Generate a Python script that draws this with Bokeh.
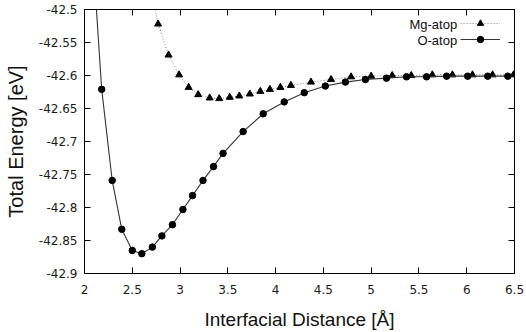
from bokeh.plotting import figure
from bokeh.models import LinearAxis, FixedTicker, Range1d, Legend, LegendItem
from bokeh.core.properties import value
from bokeh.embed import file_html
from bokeh.resources import INLINE

# ---- data ----
o_x = [2.07, 2.18, 2.29, 2.39, 2.50, 2.60, 2.71, 2.81, 2.92, 3.03, 3.13, 3.24, 3.35,
       3.45, 3.66, 3.87, 4.09, 4.30, 4.52, 4.73, 4.94, 5.16, 5.37, 5.58, 5.79, 6.01,
       6.22, 6.43]
o_y = [-42.38, -42.621, -42.759, -42.833, -42.865, -42.870, -42.860, -42.843, -42.826,
       -42.803, -42.782, -42.759, -42.738, -42.718, -42.685, -42.658, -42.640, -42.626,
       -42.616, -42.610, -42.606, -42.604, -42.602, -42.602, -42.601, -42.601, -42.601,
       -42.601]

mg_x = [2.66, 2.77, 2.88, 2.99, 3.09, 3.19, 3.31, 3.41, 3.52, 3.62, 3.73, 3.84, 3.94,
        4.05, 4.16, 4.37, 4.58, 4.79, 5.00, 5.22, 5.42, 5.64, 5.85, 6.06, 6.27, 6.49]
mg_y = [-42.433, -42.522, -42.569, -42.599, -42.618, -42.629, -42.634, -42.635, -42.633,
        -42.631, -42.628, -42.624, -42.621, -42.618, -42.615, -42.610, -42.606, -42.602,
        -42.601, -42.600, -42.600, -42.599, -42.599, -42.599, -42.599, -42.599]

series_names = ["Mg-atop", "O-atop"]

x_ticks = [2.0, 2.5, 3.0, 3.5, 4.0, 4.5, 5.0, 5.5, 6.0, 6.5]
x_tick_labels = ["2", "2.5", "3", "3.5", "4", "4.5", "5", "5.5", "6", "6.5"]
y_ticks = [-42.9, -42.85, -42.8, -42.75, -42.7, -42.65, -42.6, -42.55, -42.5]
y_tick_labels = ["-42.9", "-42.85", "-42.8", "-42.75", "-42.7", "-42.65", "-42.6",
                 "-42.55", "-42.5"]

x_title = "Interfacial Distance [Å]"
y_title = "Total Energy [eV]"

# ---- figure ----
p = figure(width=526, height=332, x_range=Range1d(2, 6.5), y_range=Range1d(-42.9, -42.5),
           output_backend="svg", toolbar_location=None,
           min_border_left=84, min_border_right=12, min_border_top=9, min_border_bottom=59)
p.xgrid.visible = False
p.ygrid.visible = False
p.outline_line_color = "black"
p.outline_line_width = 1
p.background_fill_color = "white"
p.border_fill_color = "white"

tick_font = "DejaVu Sans"
label_font = "Liberation Sans"

for ax, ticks, labels in ((p.xaxis[0], x_ticks, x_tick_labels), (p.yaxis[0], y_ticks, y_tick_labels)):
    ax.ticker = FixedTicker(ticks=ticks)
    ax.major_label_overrides = dict(zip(ticks, labels))
    ax.major_tick_in = 6
    ax.major_tick_out = 0
    ax.minor_tick_line_color = None
    ax.axis_line_color = "black"
    ax.major_tick_line_color = "black"
    ax.major_label_text_font = tick_font
    ax.major_label_text_font_size = "12px"
    ax.major_label_text_color = "#1a1a1a"
    ax.axis_label_text_font = label_font
    ax.axis_label_text_font_style = "normal"
    ax.axis_label_text_color = "#111111"

p.xaxis[0].axis_label = x_title
p.yaxis[0].axis_label = y_title
p.xaxis[0].axis_label_text_font_size = "19px"
p.yaxis[0].axis_label_text_font_size = "20px"
p.xaxis[0].major_label_standoff = 11
p.xaxis[0].axis_label_standoff = 12
p.yaxis[0].major_label_standoff = 7
p.yaxis[0].axis_label_standoff = 9

# mirrored ticks on top and right (no labels)
top_ax = LinearAxis(ticker=FixedTicker(ticks=x_ticks), major_tick_in=6, major_tick_out=0,
                    minor_tick_line_color=None, major_label_text_font_size="0px",
                    major_label_text_color=None, major_label_standoff=0,
                    axis_line_color="black")
right_ax = LinearAxis(ticker=FixedTicker(ticks=y_ticks), major_tick_in=6, major_tick_out=0,
                      minor_tick_line_color=None, major_label_text_font_size="0px",
                      major_label_text_color=None, major_label_standoff=0,
                      axis_line_color="black")
p.add_layout(top_ax, "above")
p.add_layout(right_ax, "right")

# ---- series ----
r_mg_line = p.line(mg_x, mg_y, line_color="#808080", line_width=1, line_dash="1 2")
r_mg_pts = p.scatter(mg_x, mg_y, marker="triangle", size=7, fill_color="black", line_color="black")
r_o_line = p.line(o_x, o_y, line_color="#333333", line_width=1.1)
r_o_pts = p.scatter(o_x, o_y, marker="circle", size=6.5, fill_color="black", line_color="black")

# ---- gnuplot-style key: text at left, sample at right ----
legend = Legend(items=[LegendItem(label=value(" "), renderers=[r_mg_line, r_mg_pts]),
                       LegendItem(label=value(" "), renderers=[r_o_line, r_o_pts])],
                location="top_right", margin=0, padding=6, spacing=0,
                glyph_width=40, glyph_height=16, label_height=16, label_width=0,
                label_standoff=8, label_text_font_size="1px", label_text_color=None,
                border_line_alpha=0, background_fill_alpha=0)
p.add_layout(legend)

p.text(x=[5.90, 5.90], y=[-42.5222, -42.5465], text=series_names,
       text_align="right", text_baseline="middle", text_font=value(label_font),
       text_font_size="13px", text_color="#111111")

open("out.html", "w").write(file_html(p, INLINE))
